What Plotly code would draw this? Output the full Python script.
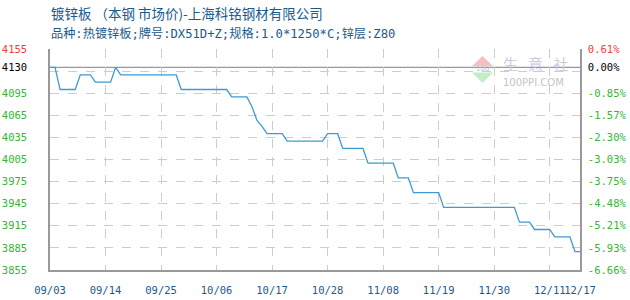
import plotly.graph_objects as go

# ---------------- data ----------------
dates = ["2024-09-03", "2024-09-04", "2024-09-05", "2024-09-08", "2024-09-09",
         "2024-09-11", "2024-09-12", "2024-09-15", "2024-09-16", "2024-09-17",
         "2024-09-28", "2024-09-29", "2024-10-08", "2024-10-09", "2024-10-12",
         "2024-10-13", "2024-10-14", "2024-10-15", "2024-10-16", "2024-10-19",
         "2024-10-20", "2024-10-27", "2024-10-28", "2024-10-30", "2024-10-31",
         "2024-11-04", "2024-11-05", "2024-11-10", "2024-11-11", "2024-11-13",
         "2024-11-14", "2024-11-19", "2024-11-20", "2024-12-04", "2024-12-05",
         "2024-12-07", "2024-12-08", "2024-12-11", "2024-12-12", "2024-12-15",
         "2024-12-16", "2024-12-17"]
prices = [4130, 4130, 4100, 4100, 4120,
          4120, 4110, 4110, 4130, 4120,
          4120, 4100, 4100, 4090, 4090,
          4077, 4058, 4050, 4040, 4040,
          4030, 4030, 4040, 4040, 4020,
          4020, 4000, 4000, 3980, 3980,
          3960, 3960, 3940, 3940, 3920,
          3920, 3910, 3910, 3900, 3900,
          3880, 3880]

base_price = 4130
x_tick_dates = ["2024-09-03", "2024-09-14", "2024-09-25", "2024-10-06", "2024-10-17",
                "2024-10-28", "2024-11-08", "2024-11-19", "2024-11-30", "2024-12-11",
                "2024-12-17"]
x_tick_labels = ["09/03", "09/14", "09/25", "10/06", "10/17", "10/28", "11/08",
                 "11/19", "11/30", "12/11", "12/17"]
y_tick_vals = [4155, 4130, 4095, 4065, 4035, 4005, 3975, 3945, 3915, 3885, 3855]
y_grid_vals = [3855, 3885, 3915, 3945, 3975, 4005, 4035, 4065, 4095, 4125, 4155]
y_range = [3855, 4155]

title1 = "镀锌板 （本钢 市场价)-上海科铭钢材有限公司"
title2 = "品种:热镀锌板;牌号:DX51D+Z;规格:1.0*1250*C;锌层:Z80"

# ---------------- styles ----------------
RED = "#f23c3c"
GREEN = "#35b535"
BLACK = "#000000"
BLUE_TXT = "#1a5a8c"
LINE = "#3d9ad6"
AXIS = "#999999"
GRID = "#cccccc"
MONO = "DejaVu Sans Mono, Liberation Mono, monospace"


def col(v):
    if v > base_price:
        return RED
    if v == base_price:
        return BLACK
    return GREEN


left_text = [f"<span style='color:{col(v)}'>{v}</span>" for v in y_tick_vals]
right_text = [f"<span style='color:{col(v)}'>{(v - base_price) / base_price * 100:.2f}%</span>"
              for v in y_tick_vals]

fig = go.Figure()
# invisible carriers for the overlay axes
fig.add_trace(go.Scatter(x=dates, y=prices, mode="lines", yaxis="y3",
                         line=dict(color="rgba(0,0,0,0)", width=0), hoverinfo="skip",
                         showlegend=False))
fig.add_trace(go.Scatter(x=dates, y=prices, mode="lines", yaxis="y2",
                         line=dict(color="rgba(0,0,0,0)", width=0), hoverinfo="skip",
                         showlegend=False))
fig.add_trace(go.Scatter(x=dates, y=prices, mode="lines",
                         line=dict(color=LINE, width=1.3), hoverinfo="skip",
                         showlegend=False))

# reference (0%) line
fig.add_shape(type="line", xref="x domain", x0=0, x1=1, yref="y", y0=base_price, y1=base_price,
              line=dict(color=AXIS, width=1.2), layer="below")

L, R, T, B = 50, 50, 49, 30
W, H = 630, 300
pw, ph = W - L - R, H - T - B


def px(xp):
    return (xp - L) / pw


def py(yp):
    return (H - B - yp) / ph


# titles
fig.add_annotation(text=title1, xref="paper", yref="paper", x=px(49), y=py(13.5),
                   xanchor="left", yanchor="middle", showarrow=False,
                   font=dict(family="Noto Sans CJK SC", size=13.5, color=BLUE_TXT))
fig.add_annotation(text=title2, xref="paper", yref="paper", x=px(49), y=py(33.5),
                   xanchor="left", yanchor="middle", showarrow=False,
                   font=dict(family="DejaVu Sans Mono, Noto Sans CJK SC", size=12.2, color=BLUE_TXT))

# watermark logo
fig.add_shape(type="path", xref="paper", yref="paper",
              path=f"M {px(482.5)} {py(56)} L {px(472)} {py(66)} L {px(493)} {py(66)} Z",
              fillcolor="#f6c0c0", line=dict(width=0), layer="above")
fig.add_shape(type="path", xref="paper", yref="paper",
              path=f"M {px(472)} {py(72.5)} L {px(493)} {py(72.5)} L {px(482.5)} {py(83)} Z",
              fillcolor="#c6ecc6", line=dict(width=0), layer="above")
fig.add_annotation(text="100", xref="paper", yref="paper", x=px(482.5), y=py(69.3),
                   xanchor="center", yanchor="middle", showarrow=False, borderpad=0,
                   font=dict(family="DejaVu Sans", size=7, color="#b8bcd4"))
fig.add_annotation(text="生   意   社", xref="paper", yref="paper", x=px(502), y=py(63.5),
                   xanchor="left", yanchor="middle", showarrow=False, borderpad=0,
                   font=dict(family="Noto Sans CJK SC", size=15, color="#c8cde0"))
fig.add_annotation(text="100PPI.COM", xref="paper", yref="paper", x=px(502), y=py(82.5),
                   xanchor="left", yanchor="middle", showarrow=False, borderpad=0,
                   font=dict(family="DejaVu Sans", size=10, color="#c4c4c4"))

fig.update_layout(
    width=W, height=H,
    margin=dict(l=L, r=R, t=T, b=B, pad=0, autoexpand=False),
    paper_bgcolor="white", plot_bgcolor="white",
    showlegend=False,
    xaxis=dict(
        type="date", range=[x_tick_dates[0], x_tick_dates[-1]],
        tickmode="array", tickvals=x_tick_dates, ticktext=x_tick_labels,
        tickangle=0, ticks="", ticklabelstandoff=10, automargin=False,
        tickfont=dict(family=MONO, size=10.5, color=BLUE_TXT),
        showgrid=True, gridcolor=GRID, griddash="dash", gridwidth=1,
        showline=True, linecolor=AXIS, linewidth=1.5,
        zeroline=False, fixedrange=True,
    ),
    yaxis=dict(
        range=y_range, tickmode="array", tickvals=y_tick_vals, ticktext=left_text,
        ticks="", ticklabelstandoff=19, automargin=False,
        tickfont=dict(family=MONO, size=10.5),
        showgrid=False,
        showline=True, linecolor=AXIS, linewidth=1.5,
        zeroline=False, fixedrange=True,
    ),
    yaxis2=dict(
        range=y_range, overlaying="y", side="right",
        tickmode="array", tickvals=y_tick_vals, ticktext=right_text,
        ticks="", ticklabelstandoff=4, automargin=False,
        tickfont=dict(family=MONO, size=10.5),
        showgrid=False, showline=True, linecolor=AXIS, linewidth=1.5,
        zeroline=False, fixedrange=True,
    ),
    yaxis3=dict(
        range=y_range, overlaying="y", side="left", automargin=False,
        tickmode="array", tickvals=y_grid_vals, showticklabels=False, ticks="",
        showgrid=True, gridcolor=GRID, griddash="dash", gridwidth=1,
        showline=False, zeroline=False, fixedrange=True,
    ),
)

fig.write_html("out.html")
